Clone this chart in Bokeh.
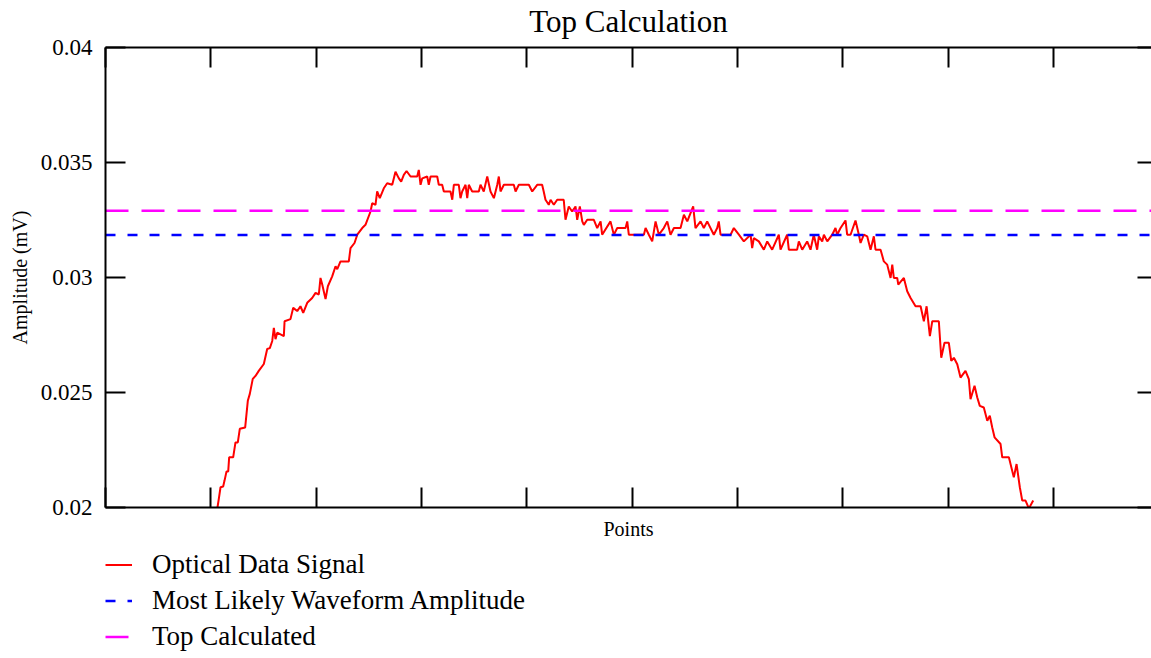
from bokeh.plotting import figure
from bokeh.layouts import column
from bokeh.models import (Range1d, FixedTicker, LinearAxis, Legend, LegendItem,
                          NumeralTickFormatter)
from bokeh.embed import file_html
from bokeh.resources import INLINE

# ---- data ----
points = [106.3, 107.6, 109.2, 111.7, 113.0, 114.9, 116.5, 117.4, 121.2, 123.4, 125.6, 127.5,
          132.6, 135.1, 137.0, 139.8, 142.4, 145.5, 150.3, 153.5, 156.0, 158.3, 159.8, 161.4,
          163.0, 169.3, 170.0, 175.6, 178.2, 182.0, 185.1, 187.7, 191.5, 196.2, 199.4, 202.5,
          204.1, 205.7, 208.9, 211.1, 215.2, 218.4, 220.0, 223.1, 231.0, 232.6, 236.4, 239.0,
          243.7, 246.8, 251.6, 253.2, 256.3, 257.9, 260.4, 264.2, 267.4, 272.2, 275.3, 278.5,
          280.7, 283.2, 285.8, 289.6, 295.9, 297.4, 299.1, 300.7, 305.4, 306.9, 308.6, 314.9,
          316.4, 319.6, 321.2, 327.5, 329.2, 330.7, 335.4, 337.0, 338.6, 341.8, 343.4, 344.9,
          348.1, 354.4, 356.0, 359.1, 362.4, 365.5, 368.7, 371.9, 373.4, 375.0, 378.2, 387.6,
          389.3, 392.4, 401.9, 405.1, 409.8, 414.5, 416.0, 417.7, 420.8, 422.5, 425.6, 428.8,
          435.0, 436.7, 439.8, 443.0, 446.2, 447.8, 450.3, 452.6, 454.1, 457.3, 463.6, 466.8,
          470.0, 471.5, 479.4, 482.6, 485.8, 493.7, 495.3, 496.8, 511.1, 512.7, 515.8, 519.0,
          522.2, 525.3, 530.0, 533.3, 536.4, 539.6, 545.9, 549.1, 552.3, 557.9, 560.1, 564.9,
          568.0, 571.2, 577.5, 580.7, 582.2, 583.9, 593.4, 596.5, 601.3, 606.0, 612.4, 613.9,
          615.5, 620.2, 625.0, 628.2, 632.9, 639.2, 640.8, 647.1, 648.7, 656.6, 658.2, 661.4,
          666.1, 669.3, 672.4, 675.6, 677.2, 680.4, 682.0, 685.2, 689.9, 693.0, 694.6, 697.8,
          702.5, 704.1, 707.3, 712.0, 715.2, 716.8, 719.9, 723.1, 726.3, 729.4, 731.0, 735.8,
          738.9, 742.1, 745.3, 746.9, 748.4, 751.6, 752.6, 757.9, 761.1, 764.3, 769.0, 773.8,
          776.9, 779.5, 782.6, 784.9, 791.1, 793.4, 796.5, 800.6, 802.9, 805.4, 808.6, 811.7,
          816.4, 819.6, 821.2, 825.0, 827.6, 830.0, 833.8, 837.1, 839.5, 841.8, 844.0, 849.7,
          851.3, 857.6, 862.3, 864.9, 868.0, 870.3, 873.4, 876.6, 880.7]

amplitude = [0.02000, 0.02039, 0.02088, 0.02091, 0.02117, 0.02157, 0.02157, 0.02218, 0.02218, 0.02283, 0.02283, 0.02342,
             0.02348, 0.02464, 0.02494, 0.02559, 0.02572, 0.02594, 0.02624, 0.02689, 0.02693, 0.02724, 0.02781, 0.02732,
             0.02760, 0.02745, 0.02810, 0.02819, 0.02868, 0.02854, 0.02875, 0.02846, 0.02890, 0.02911, 0.02933, 0.02926,
             0.02998, 0.02971, 0.02906, 0.02962, 0.03005, 0.03049, 0.03036, 0.03070, 0.03070, 0.03128, 0.03150, 0.03186,
             0.03215, 0.03229, 0.03287, 0.03323, 0.03316, 0.03374, 0.03345, 0.03388, 0.03410, 0.03403, 0.03460, 0.03431,
             0.03417, 0.03446, 0.03463, 0.03439, 0.03439, 0.03468, 0.03403, 0.03431, 0.03439, 0.03403, 0.03439, 0.03439,
             0.03403, 0.03403, 0.03374, 0.03374, 0.03338, 0.03403, 0.03403, 0.03345, 0.03374, 0.03403, 0.03345, 0.03403,
             0.03374, 0.03374, 0.03403, 0.03374, 0.03439, 0.03374, 0.03345, 0.03403, 0.03439, 0.03374, 0.03403, 0.03403,
             0.03374, 0.03403, 0.03403, 0.03374, 0.03403, 0.03403, 0.03374, 0.03338, 0.03316, 0.03338, 0.03316, 0.03338,
             0.03338, 0.03251, 0.03309, 0.03287, 0.03309, 0.03251, 0.03309, 0.03244, 0.03229, 0.03251, 0.03251, 0.03215,
             0.03244, 0.03186, 0.03244, 0.03186, 0.03215, 0.03215, 0.03244, 0.03186, 0.03186, 0.03215, 0.03186, 0.03157,
             0.03244, 0.03186, 0.03215, 0.03244, 0.03186, 0.03215, 0.03215, 0.03273, 0.03244, 0.03309, 0.03215, 0.03244,
             0.03215, 0.03244, 0.03186, 0.03215, 0.03244, 0.03186, 0.03186, 0.03215, 0.03186, 0.03157, 0.03186, 0.03128,
             0.03171, 0.03157, 0.03121, 0.03157, 0.03121, 0.03186, 0.03121, 0.03186, 0.03121, 0.03121, 0.03157, 0.03121,
             0.03157, 0.03121, 0.03186, 0.03121, 0.03179, 0.03157, 0.03186, 0.03157, 0.03186, 0.03215, 0.03186, 0.03215,
             0.03248, 0.03186, 0.03186, 0.03248, 0.03186, 0.03150, 0.03186, 0.03179, 0.03121, 0.03179, 0.03121, 0.03121,
             0.03070, 0.03056, 0.02998, 0.03056, 0.02998, 0.02998, 0.02969, 0.02998, 0.02940, 0.02911, 0.02875, 0.02875,
             0.02810, 0.02875, 0.02745, 0.02810, 0.02810, 0.02651, 0.02716, 0.02716, 0.02637, 0.02651, 0.02623, 0.02565,
             0.02594, 0.02558, 0.02471, 0.02529, 0.02478, 0.02442, 0.02435, 0.02377, 0.02399, 0.02348, 0.02305, 0.02276,
             0.02218, 0.02218, 0.02131, 0.02189, 0.02088, 0.02030, 0.02030, 0.01996, 0.02030]

most_likely_amplitude = 0.03185
top_calculated = 0.0329

y_ticks = [0.02, 0.025, 0.03, 0.035, 0.04]
y_tick_labels = ["0.02", "0.025", "0.03", "0.035", "0.04"]
x_ticks = [0, 100, 200, 300, 400, 500, 600, 700, 800, 900, 1000]
x_range = (0, 993)
y_range = (0.02, 0.04)

chart_title = "Top Calculation"
series_names = ["Optical Data Signal", "Most Likely Waveform Amplitude", "Top Calculated"]
series_colors = ["#ff0000", "#0000ff", "#ff00ff"]
series_dash = ["solid", "10 12", "23 13"]
series_widths = [2, 2.5, 2.5]

SERIF = "Liberation Serif"
W = 1151

p = figure(width=W, height=543, output_backend="svg", toolbar_location=None,
           x_range=Range1d(*x_range), y_range=Range1d(*y_range),
           x_axis_location=None, y_axis_location=None,
           min_border_left=105, min_border_right=0, min_border_top=46, min_border_bottom=36)
p.outline_line_color = None
p.xgrid.grid_line_color = None
p.ygrid.grid_line_color = None
p.background_fill_color = "white"
p.border_fill_color = "white"


def style_axis(ax, tick_in=20):
    ax.axis_line_color = "black"
    ax.axis_line_width = 2
    ax.major_tick_line_color = "black"
    ax.major_tick_line_width = 2
    ax.major_tick_in = tick_in
    ax.major_tick_out = 0
    ax.minor_tick_in = 0
    ax.minor_tick_out = 0
    ax.minor_tick_line_color = None


left = LinearAxis(ticker=FixedTicker(ticks=y_ticks),
                  axis_label="Amplitude (mV)")
left.formatter = NumeralTickFormatter(format="0.[000]")
style_axis(left)
left.major_label_text_font = SERIF
left.major_label_text_font_size = "23px"
left.major_label_text_color = "black"
left.major_label_standoff = 13
left.axis_label_text_font = SERIF
left.axis_label_text_font_size = "20px"
left.axis_label_text_font_style = "normal"
left.axis_label_text_color = "black"
left.axis_label_standoff = 7
p.add_layout(left, "left")

right = LinearAxis(ticker=FixedTicker(ticks=y_ticks))
style_axis(right, tick_in=14)
right.axis_line_color = None
right.major_label_text_font_size = "0px"
right.major_label_standoff = 0
p.add_layout(right, "right")

bottom = LinearAxis(ticker=FixedTicker(ticks=x_ticks), axis_label="Points")
style_axis(bottom)
bottom.major_label_text_font_size = "0px"
bottom.major_label_standoff = 0
bottom.axis_label_text_font = SERIF
bottom.axis_label_text_font_size = "20px"
bottom.axis_label_text_font_style = "normal"
bottom.axis_label_text_color = "black"
bottom.axis_label_standoff = 10
p.add_layout(bottom, "below")

# top axis: ticks inside, carries the chart title as its label
top = LinearAxis(ticker=FixedTicker(ticks=x_ticks), axis_label=chart_title)
style_axis(top)
top.major_label_text_font_size = "0px"
top.major_label_standoff = 0
top.axis_label_text_font = SERIF
top.axis_label_text_font_size = "31px"
top.axis_label_text_font_style = "normal"
top.axis_label_text_color = "black"
top.axis_label_standoff = 9
p.add_layout(top, "above")

series_x = [points, list(x_range), list(x_range)]
series_y = [amplitude, [most_likely_amplitude] * 2, [top_calculated] * 2]

for xs, ys, col, dash, wd in zip(series_x, series_y, series_colors, series_dash, series_widths):
    p.line(xs, ys, line_color=col, line_width=wd, line_dash=dash)

# ---- legend strip below the plot: same series and styles, data kept out of view ----
lg = figure(width=W, height=115, output_backend="svg", toolbar_location=None,
            x_range=Range1d(*x_range), y_range=Range1d(1, 2),
            x_axis_location=None, y_axis_location=None,
            min_border_left=105, min_border_right=0, min_border_top=6, min_border_bottom=0)
lg.outline_line_color = None
lg.xgrid.grid_line_color = None
lg.ygrid.grid_line_color = None
items = []
for name, xs, ys, col, dash, wd in zip(series_names, series_x, series_y,
                                       series_colors, series_dash, series_widths):
    r = lg.line(xs, ys, line_color=col, line_width=wd, line_dash=dash)
    items.append(LegendItem(label=name, renderers=[r]))

legend = Legend(items=items, location="top_left", orientation="vertical",
                border_line_color=None, background_fill_alpha=0,
                glyph_width=27, glyph_height=17, label_height=31,
                label_standoff=20, spacing=5, padding=0, margin=0,
                label_text_font=SERIF, label_text_font_size="27px",
                label_text_color="black")
lg.add_layout(legend)

layout = column(p, lg, spacing=0)
open("out.html", "w").write(file_html(layout, INLINE))
